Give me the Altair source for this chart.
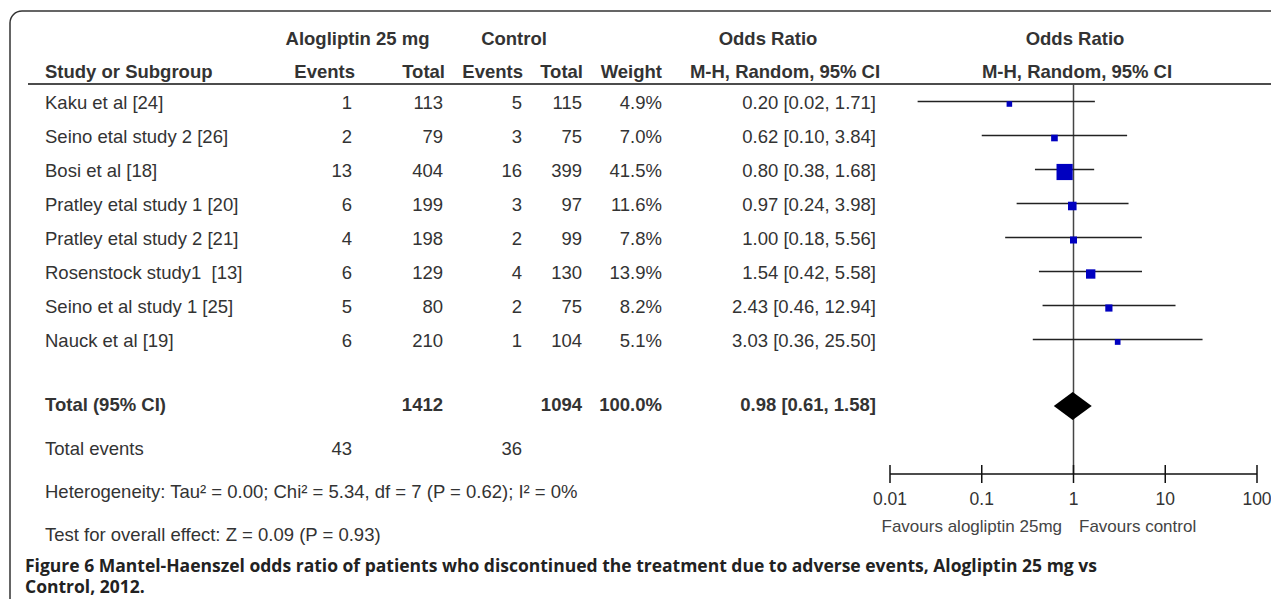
import altair as alt
import pandas as pd

# ---------------- data ----------------
studies = ["Kaku et al [24]", "Seino etal study 2 [26]", "Bosi et al [18]",
           "Pratley etal study 1 [20]", "Pratley etal study 2 [21]",
           "Rosenstock study1\u00a0 [13]", "Seino et al study 1 [25]", "Nauck et al [19]"]
alo_events = [1, 2, 13, 6, 4, 6, 5, 6]
alo_total = [113, 79, 404, 199, 198, 129, 80, 210]
ctl_events = [5, 3, 16, 3, 2, 4, 2, 1]
ctl_total = [115, 75, 399, 97, 99, 130, 75, 104]
weights = [4.9, 7.0, 41.5, 11.6, 7.8, 13.9, 8.2, 5.1]
odds = [0.20, 0.62, 0.80, 0.97, 1.00, 1.54, 2.43, 3.03]
ci_low = [0.02, 0.10, 0.38, 0.24, 0.18, 0.42, 0.46, 0.36]
ci_high = [1.71, 3.84, 1.68, 3.98, 5.56, 5.58, 12.94, 25.50]

total_alo = 1412
total_ctl = 1094
events_alo = 43
events_ctl = 36
total_weight = 100.0
pooled_or = 0.98
pooled_low = 0.61
pooled_high = 1.58

tick_values = [0.01, 0.1, 1, 10, 100]
tick_labels = ["0.01", "0.1", "1", "10", "100"]

heterogeneity = "Heterogeneity: Tau\u00b2 = 0.00; Chi\u00b2 = 5.34, df = 7 (P = 0.62); I\u00b2 = 0%"
overall = "Test for overall effect: Z = 0.09 (P = 0.93)"
favours_left = "Favours alogliptin 25mg"
favours_right = "Favours control"
caption1 = "Figure 6 Mantel-Haenszel odds ratio of patients who discontinued the treatment due to adverse events, Alogliptin 25 mg vs"
caption2 = "Control, 2012."

# ---------------- styling ----------------
FONT = "Liberation Sans"
FS = 18.5
TXT = "#333333"
W, H = 1263, 591

df = pd.DataFrame({
    "study": studies, "e1": alo_events, "t1": alo_total, "e2": ctl_events,
    "t2": ctl_total, "w": weights, "or": odds, "lo": ci_low, "hi": ci_high,
})
df["wtxt"] = [f"{v:.1f}%" for v in weights]
df["ortxt"] = [f"{o:.2f} [{l:.2f}, {h:.2f}]" for o, l, h in zip(odds, ci_low, ci_high)]

xs = alt.Scale(type="log", domain=[0.01, 100], range=[882, 1249], nice=False)
ys = alt.Scale(type="point", domain=studies, range=[95, 333], padding=0)
Y = alt.Y("study:N", scale=ys, axis=None)


def label(text, x, y, align="left", weight="normal", size=FS, color=TXT, font=FONT):
    return alt.Chart(pd.DataFrame({"t": [text]})).mark_text(
        align=align, baseline="middle", fontSize=size, fontWeight=weight,
        color=color, font=font
    ).encode(x=alt.value(x), y=alt.value(y), text="t:N")


def column(field, x, align="right"):
    return alt.Chart(df).mark_text(
        align=align, baseline="middle", fontSize=FS, color=TXT, font=FONT
    ).encode(x=alt.value(x), y=Y, text=f"{field}:N")


one = pd.DataFrame({"a": [0]})

frame = alt.Chart(one).mark_rect(
    fill=None, stroke="#333333", strokeWidth=1.5, cornerRadius=12
).encode(x=alt.value(2), x2=alt.value(1500), y=alt.value(3), y2=alt.value(800))

header_rule = alt.Chart(one).mark_rule(color="#111111", strokeWidth=1.5).encode(
    x=alt.value(20), x2=alt.value(1268), y=alt.value(76))

headers = [
    label("Alogliptin 25 mg", 349.5, 31, "center", "bold"),
    label("Control", 506, 31, "center", "bold"),
    label("Odds Ratio", 760, 31, "center", "bold"),
    label("Odds Ratio", 1067, 31, "center", "bold"),
    label("Study or Subgroup", 37, 64, "left", "bold"),
    label("Events", 347, 64, "right", "bold"),
    label("Total", 437, 64, "right", "bold"),
    label("Events", 515, 64, "right", "bold"),
    label("Total", 575, 64, "right", "bold"),
    label("Weight", 654, 64, "right", "bold"),
    label("M-H, Random, 95% CI", 777, 64, "center", "bold"),
    label("M-H, Random, 95% CI", 1069, 64, "center", "bold"),
]

cols = [
    column("study", 37, "left"),
    column("e1", 344),
    column("t1", 435),
    column("e2", 514),
    column("t2", 574),
    column("wtxt", 654),
    column("ortxt", 868),
]

totals = [
    label("Total (95% CI)", 37, 397, "left", "bold"),
    label(str(total_alo), 435, 397, "right", "bold"),
    label(str(total_ctl), 574, 397, "right", "bold"),
    label(f"{total_weight:.1f}%", 654, 397, "right", "bold"),
    label(f"{pooled_or:.2f} [{pooled_low:.2f}, {pooled_high:.2f}]", 868, 397, "right", "bold"),
    label("Total events", 37, 441),
    label(str(events_alo), 344, 441, "right"),
    label(str(events_ctl), 514, 441, "right"),
    label(heterogeneity, 37, 484),
    label(overall, 37, 527),
]

vline = alt.Chart(one).mark_rule(color="#444444", strokeWidth=1.5).encode(
    x=alt.datum(1, scale=xs, axis=None), y=alt.value(76), y2=alt.value(466))

ci = alt.Chart(df).mark_rule(color="#222222", strokeWidth=1.5, yOffset=-1.5).encode(
    x=alt.X("lo:Q", scale=xs, axis=None), x2="hi:Q", y=Y)

squares = alt.Chart(df).mark_square(color="#0000C0", opacity=1, yOffset=1).encode(
    x=alt.X("or:Q", scale=xs, axis=None), y=Y,
    size=alt.Size("w:Q", scale=alt.Scale(type="linear", domain=[0, 41.5], range=[0, 262], zero=True), legend=None))

diamond_df = pd.DataFrame({
    "x": [pooled_low, pooled_or, pooled_high],
    "top": [0, -1, 0],
    "bot": [0, 1, 0],
})
diamond = alt.Chart(diamond_df).mark_area(color="black", opacity=1, orient="vertical").encode(
    x=alt.X("x:Q", scale=xs, axis=None),
    y=alt.Y("top:Q", scale=alt.Scale(domain=[-1, 1], range=[384, 412]), axis=None),
    y2="bot:Q")

axis_line = alt.Chart(one).mark_rule(color="#111111", strokeWidth=1.5).encode(
    x=alt.datum(tick_values[0], scale=xs, axis=None), x2=alt.datum(tick_values[-1]), y=alt.value(466))

tick_df = pd.DataFrame({"v": tick_values, "lab": tick_labels})
ticks = alt.Chart(tick_df).mark_rule(color="#111111", strokeWidth=1.5).encode(
    x=alt.X("v:Q", scale=xs, axis=None), y=alt.value(457), y2=alt.value(475))
tick_text = alt.Chart(tick_df).mark_text(
    fontSize=17.5, font=FONT, color=TXT, baseline="middle", align="center"
).encode(x=alt.X("v:Q", scale=xs, axis=None), y=alt.value(492), text="lab:N")

fav = [
    label(favours_left, 1054, 519, "right", size=17, color="#444444"),
    label(favours_right, 1071, 519, "left", size=17, color="#444444"),
]

caption = [
    label(caption1, 17, 559, "left", "bold", size=17.5, color="#222222", font="Open Sans"),
    label(caption2, 17, 580, "left", "bold", size=17.5, color="#222222", font="Open Sans"),
]

chart = alt.layer(
    frame, header_rule, *headers, *cols, *totals, vline, ci, squares, diamond,
    axis_line, ticks, tick_text, *fav, *caption
).resolve_scale(y="independent").properties(
    width=W, height=H, padding=0, autosize=alt.AutoSizeParams(type="none")
).configure_view(stroke=None)

chart.save("out.html", embed_options={"renderer": "svg", "actions": False})
